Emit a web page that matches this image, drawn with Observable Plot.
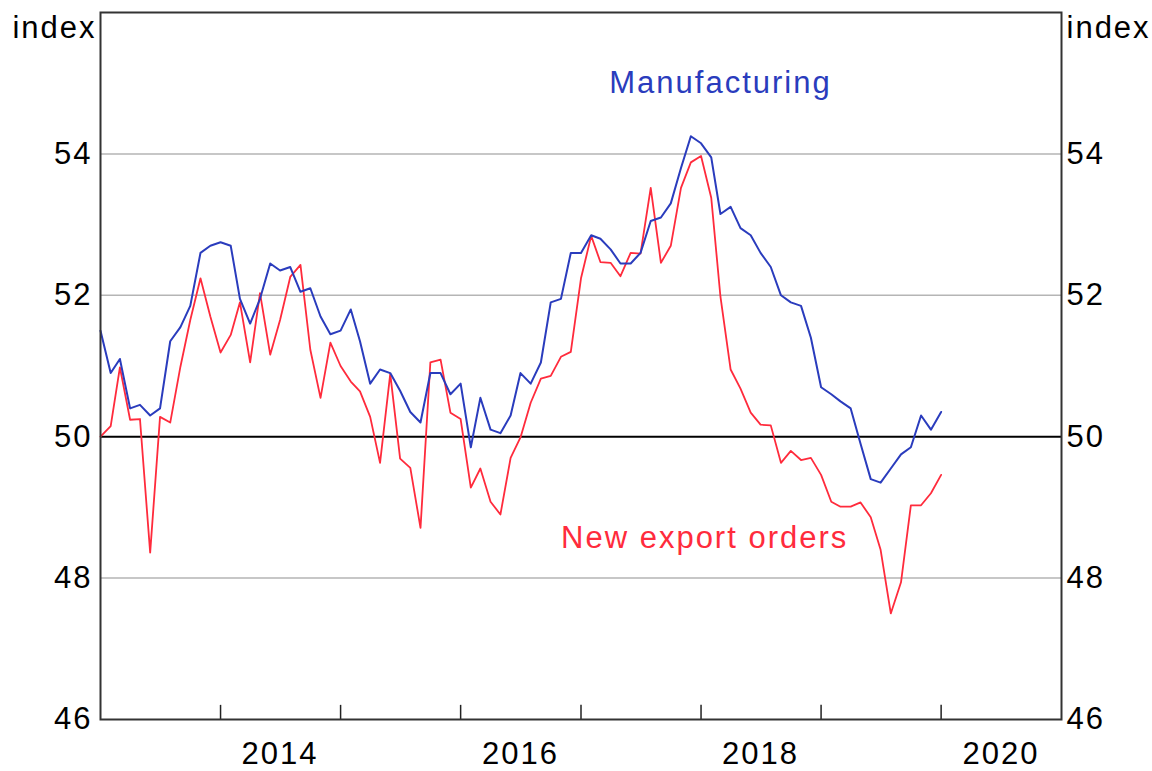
<!DOCTYPE html>
<html>
<head>
<meta charset="utf-8">
<script src="https://cdn.jsdelivr.net/npm/d3@7"></script>
<script src="https://cdn.jsdelivr.net/npm/@observablehq/plot@0.6"></script>
<style>
  html, body { margin: 0; padding: 0; background: #ffffff; }
  #chart svg { display: block; }
</style>
</head>
<body>
<div id="chart"></div>
<script>
// ---- data (monthly, Jan 2013 – Jan 2020) ----
const startMonth = "2013-01-01";
const manufacturing = [
  51.5, 50.9, 51.1, 50.4, 50.45, 50.3, 50.4, 51.35, 51.55, 51.85, 52.6, 52.7,
  52.75, 52.7, 51.95, 51.6, 51.95, 52.45, 52.35, 52.4, 52.05, 52.1, 51.7, 51.45,
  51.5, 51.8, 51.35, 50.75, 50.95, 50.9, 50.65, 50.35, 50.2, 50.9, 50.9, 50.6,
  50.75, 49.85, 50.55, 50.1, 50.05, 50.3, 50.9, 50.75, 51.05, 51.9, 51.95, 52.6,
  52.6, 52.85, 52.8, 52.65, 52.45, 52.45, 52.6, 53.05, 53.1, 53.3, 53.8, 54.25,
  54.15, 53.95, 53.15, 53.25, 52.95, 52.85, 52.6, 52.4, 52.0, 51.9, 51.85, 51.4,
  50.7, 50.6, 50.5, 50.4, 49.9, 49.4, 49.35, 49.55, 49.75, 49.85, 50.3, 50.1,
  50.35
];
const newExportOrders = [
  50.0, 50.15, 50.98, 50.24, 50.25, 48.36, 50.28, 50.2, 50.99, 51.65, 52.24, 51.7,
  51.19, 51.44, 51.9, 51.05, 52.03, 51.16, 51.65, 52.26, 52.43, 51.23, 50.55, 51.33,
  51.0, 50.78, 50.64, 50.28, 49.63, 50.89, 49.69, 49.56, 48.71, 51.05, 51.09, 50.34,
  50.25, 49.28, 49.55, 49.08, 48.9, 49.7, 49.99, 50.48, 50.82, 50.86, 51.13, 51.2,
  52.24, 52.84, 52.47, 52.46, 52.27, 52.6, 52.59, 53.52, 52.46, 52.7, 53.52, 53.88,
  53.97, 53.38, 51.98, 50.95, 50.68, 50.34, 50.17, 50.16, 49.63, 49.8, 49.67, 49.7,
  49.46, 49.08, 49.01, 49.01, 49.07, 48.86, 48.4, 47.5, 47.94, 49.03, 49.03, 49.2,
  49.46
];
const yTicks = [46, 48, 50, 52, 54];
const gridValues = [48, 52, 54];
const baselineValue = [50];
const yearTicks = ["2014-01-01", "2015-01-01", "2016-01-01", "2017-01-01", "2018-01-01", "2019-01-01", "2020-01-01"];
const yearLabels = ["2014-07-01", "2016-07-01", "2018-07-01", "2020-07-01"];
const xDomain = ["2013-01-01", "2021-01-01"];
const yDomain = [46, 56];
const seriesLabels = ["Manufacturing", "New export orders"];
const labelDates = ["2018-03-01", "2018-01-12"];
const labelValues = [55.0, 48.57];

// ---- build rows ----
const blue = "#2a3cbd";
const red = "#ff2b3c";
const start = new Date(startMonth);
const toRows = (vals) => vals.map((v, i) => ({ date: d3.utcMonth.offset(start, i), value: v }));
const manRows = toRows(manufacturing);
const expRows = toRows(newExportOrders);
const labels = seriesLabels.map((t, i) => ({ text: t, date: new Date(labelDates[i]), value: labelValues[i], color: i === 0 ? blue : red }));

const FS = 31;
const chart = Plot.plot({
  width: 1152,
  height: 771,
  marginLeft: 100,
  marginRight: 91,
  marginTop: 12,
  marginBottom: 52,
  style: { background: "#ffffff", color: "#000", fontFamily: "'Liberation Sans', Arial, sans-serif", fontSize: FS + "px", letterSpacing: "2px" },
  x: { type: "utc", domain: xDomain.map(d => new Date(d)) },
  y: { domain: yDomain },
  marks: [
    Plot.ruleY(gridValues, { stroke: "#b5b5b5", strokeWidth: 1.5 }),
    Plot.ruleY(baselineValue, { stroke: "#000", strokeWidth: 2 }),
    Plot.line(expRows, { x: "date", y: "value", stroke: red, strokeWidth: 1.8 }),
    Plot.line(manRows, { x: "date", y: "value", stroke: blue, strokeWidth: 2 }),
    Plot.ruleX(yearTicks.map(d => new Date(d)), { y1: 46, y2: 46.2, stroke: "#222", strokeWidth: 1.5 }),
    Plot.frame({ stroke: "#333", strokeWidth: 2 }),
    Plot.axisY({ anchor: "left", ticks: yTicks, tickSize: 0, tickPadding: 8, label: null, fontSize: FS }),
    Plot.axisY({ anchor: "right", ticks: yTicks, tickSize: 0, tickPadding: 5, label: null, fontSize: FS }),
    Plot.axisX({ ticks: yearLabels.map(d => new Date(d)), tickSize: 0, tickPadding: 22, tickFormat: d3.utcFormat("%Y"), label: null, fontSize: FS }),
    Plot.text(["index"], { frameAnchor: "top-left", dx: -4, dy: 3, textAnchor: "end", fontSize: FS }),
    Plot.text(["index"], { frameAnchor: "top-right", dx: 5, dy: 3, textAnchor: "start", fontSize: FS }),
    Plot.text(labels, { x: "date", y: "value", text: "text", fill: "color", fontSize: FS })
  ]
});
document.getElementById("chart").appendChild(chart);
</script>
</body>
</html>
